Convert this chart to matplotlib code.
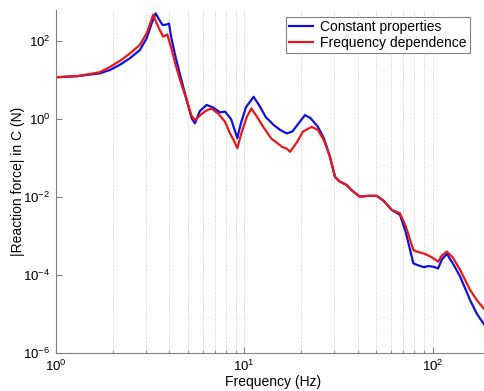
import numpy as np
import matplotlib
matplotlib.use('Agg')
import matplotlib.pyplot as plt
from matplotlib.ticker import LogLocator, NullLocator, FixedLocator

plt.rcParams['font.family'] = ['Liberation Sans', 'DejaVu Sans']
plt.rcParams['mathtext.fontset'] = 'custom'
plt.rcParams['mathtext.rm'] = 'Liberation Sans'
plt.rcParams['mathtext.it'] = 'Liberation Sans'

# frequencies (Hz) and log10 of |reaction force|
freq_const = [1.0, 1.3, 1.71, 1.94, 2.2, 2.47, 2.79, 3.03, 3.22, 3.38, 3.5, 3.68, 3.85, 3.98,
              4.1, 4.3, 4.56, 4.94, 5.25, 5.47, 5.8, 6.3, 6.8, 7.42, 7.9, 8.5,
              9.18, 9.6, 10.2, 11.2, 12.0, 13.0, 14.3, 15.5, 16.8, 18.0, 19.5, 21.0,
              22.5, 24.6, 26.5, 28.5, 30.3, 32.0, 34.9, 37.0, 41.0, 46.0, 50.5, 55.0,
              60.7, 67.1, 72.0, 79.0, 82.5, 90.0, 95.0, 101.0, 107.0, 112.0, 119.0,
              128.0, 140.0, 158.0, 172.0, 186.0, 200.0]
logf_const = [1.07, 1.10, 1.17, 1.26, 1.40, 1.56, 1.77, 2.07, 2.45, 2.71, 2.58, 2.41, 2.42,
              2.45, 2.07, 1.62, 1.13, 0.49, 0.02, -0.11, 0.20, 0.36, 0.30, 0.17, 0.19,
              0.00, -0.49, -0.10, 0.30, 0.57, 0.35, 0.05, -0.15, -0.28, -0.37,
              -0.32, -0.10, 0.10, 0.02, -0.20, -0.50, -0.97, -1.48, -1.60, -1.69, -1.82,
              -1.99, -1.97, -1.97, -2.10, -2.33, -2.46, -2.90, -3.70, -3.74, -3.80,
              -3.77, -3.79, -3.83, -3.60, -3.46, -3.70, -4.04, -4.64, -5.00, -5.24, -5.45]

freq_dep = [1.0, 1.3, 1.71, 1.94, 2.2, 2.47, 2.79, 3.03, 3.15, 3.28, 3.5, 3.71, 3.9, 4.1,
            4.3, 4.56, 4.94, 5.25, 5.47, 5.9, 6.3, 6.7, 7.3, 7.9, 8.4, 8.8, 9.18, 9.6,
            10.3, 10.9, 11.6, 12.6, 13.9, 15.0, 15.8, 16.8, 17.5, 19.0, 20.5, 22.8, 24.6,
            26.5, 28.5, 30.3, 32.0, 34.9, 37.0, 41.0, 46.0, 50.5, 55.0, 60.7, 67.1, 72.0,
            79.0, 82.5, 90.0, 95.0, 101.0, 107.0, 112.0, 119.0, 128.0, 140.0, 158.0,
            172.0, 186.0, 200.0]
logf_dep = [1.07, 1.10, 1.20, 1.34, 1.50, 1.68, 1.90, 2.20, 2.42, 2.67, 2.35, 2.11, 2.17,
            1.81, 1.42, 1.00, 0.49, 0.08, -0.03, 0.12, 0.22, 0.27, 0.13, -0.07, -0.37,
            -0.55, -0.75, -0.40, 0.05, 0.27, 0.08, -0.20, -0.50, -0.62, -0.71, -0.76,
            -0.84, -0.60, -0.32, -0.20, -0.28, -0.55, -0.97, -1.48, -1.60, -1.69, -1.82,
            -1.99, -1.97, -1.97, -2.10, -2.33, -2.42, -2.75, -3.36, -3.40, -3.45, -3.50,
            -3.57, -3.66, -3.50, -3.40, -3.55, -3.87, -4.38, -4.65, -4.85, -5.00]

y_ticks = [1e-6, 1e-4, 1e-2, 1, 1e2]

fig = plt.figure(figsize=(4.84, 3.91), dpi=100)
ax = fig.add_axes([56 / 484, 38 / 391, 433.3 / 484, 343 / 391])

ax.loglog(freq_const, 10 ** np.array(logf_const), color='#1010e0', lw=1.6,
          label='Constant properties')
ax.loglog(freq_dep, 10 ** np.array(logf_dep), color='#e81818', lw=1.6,
          label='Frequency dependence')

ax.set_xlim(1, 200)
ax.set_ylim(1e-6, 624)
ax.xaxis.set_major_locator(LogLocator(base=10))
ax.xaxis.set_minor_locator(LogLocator(base=10, subs=np.arange(2, 10)))
ax.yaxis.set_major_locator(FixedLocator(y_ticks))
ax.yaxis.set_minor_locator(NullLocator())

ax.grid(True, which='both', axis='x', color='#c8c8c8', ls=':', lw=0.7)
ax.tick_params(which='both', direction='in', labelsize=9.5, color='#808080')
ax.tick_params(which='major', length=4, pad=4)
ax.tick_params(which='minor', length=2.5)
for s in ['top', 'right']:
    ax.spines[s].set_visible(False)
for s in ['left', 'bottom']:
    ax.spines[s].set_color('#808080')

ax.set_xlabel('Frequency (Hz)', fontsize=10, labelpad=1)
ax.set_ylabel('|Reaction force| in C (N)', fontsize=10, labelpad=-1)

leg = ax.legend(loc='upper left', bbox_to_anchor=((286 - 56) / 433.3, 0.98), fontsize=10,
                fancybox=False, framealpha=1, edgecolor='#808080', borderpad=0.25,
                labelspacing=0.1, handlelength=1.7, handletextpad=0.5, borderaxespad=0)
leg.get_frame().set_linewidth(0.8)

fig.savefig('out.png', dpi=100)
